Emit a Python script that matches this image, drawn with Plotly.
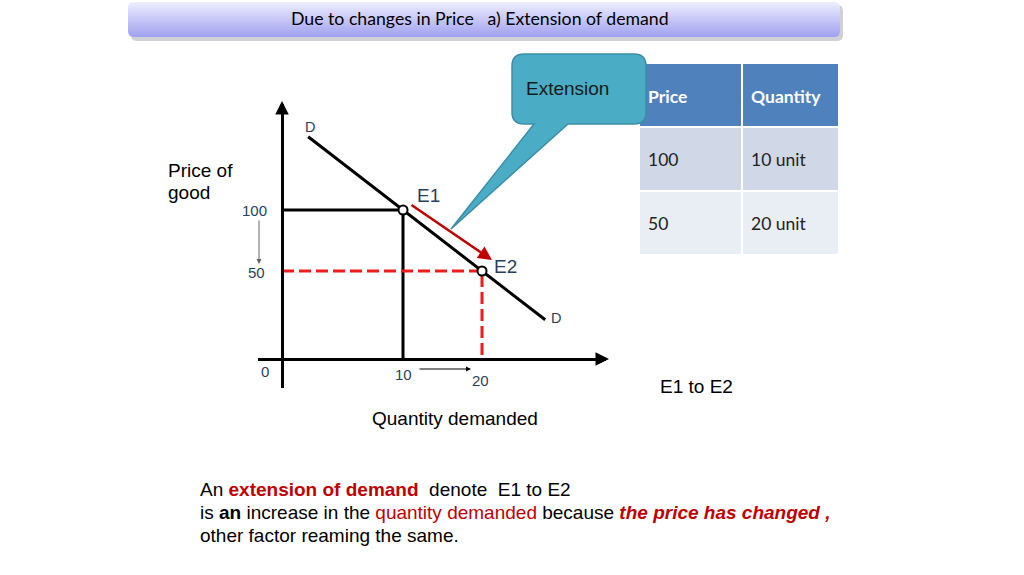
import numpy as np
import plotly.graph_objects as go

# ---------------- data ----------------
points_q = [10, 20]            # quantity at E1, E2
points_p = [100, 50]           # price at E1, E2
point_names = ["E1", "E2"]
demand_q = [-2, 28]            # demand curve D-D (schematic)
demand_p = [160, 10]
table_header = ["Price", "Quantity"]
table_price = ["100", "50"]
table_quantity = ["10 unit", "20 unit"]

W, H = 1024, 575
FONT = "Liberation Sans"
RED = "#c00000"

# pixel layout of the schematic diagram
Q0_PX, PX_PER_Q = 324.0, 7.9
P0_PX, PX_PER_P = 332.0, 1.22
def qx(px): return (px - Q0_PX) / PX_PER_Q
def pp(py): return (P0_PX - py) / PX_PER_P
XL, XR, YB, YT = 258, 606, 388, 104
AX_X_PX, AX_Y_PX = 282, 359
Q_AXIS, P_AXIS = qx(AX_X_PX), pp(AX_Y_PX)

fig = go.Figure()

# guide lines
fig.add_trace(go.Scatter(x=[Q_AXIS, points_q[0], points_q[0]], y=[points_p[0], points_p[0], P_AXIS],
                         mode="lines", line=dict(color="black", width=3), hoverinfo="skip"))
fig.add_trace(go.Scatter(x=[Q_AXIS, points_q[1], points_q[1]], y=[points_p[1], points_p[1], P_AXIS],
                         mode="lines", line=dict(color="#ee1c1c", width=3, dash="12px,5px"), hoverinfo="skip"))
# demand curve
fig.add_trace(go.Scatter(x=demand_q, y=demand_p, mode="lines",
                         line=dict(color="black", width=3), hoverinfo="skip"))
# equilibrium points
fig.add_trace(go.Scatter(x=points_q, y=points_p, mode="markers",
                         marker=dict(size=9, color="white", line=dict(color="black", width=2)),
                         hoverinfo="skip"))

# decoration layer traces (pixel space)
def rrect(x0, y0, x1, y1, r, n=8):
    xs, ys = [], []
    corners = [(x1 - r, y0 + r, -90, 0), (x1 - r, y1 - r, 0, 90),
               (x0 + r, y1 - r, 90, 180), (x0 + r, y0 + r, 180, 270)]
    for cx, cy, a0, a1 in corners:
        for a in np.linspace(np.radians(a0), np.radians(a1), n):
            xs.append(cx + r * np.cos(a)); ys.append(cy + r * np.sin(a))
    xs.append(xs[0]); ys.append(ys[0])
    return xs, ys

sx, sy = rrect(131, 5, 843, 41, 5)
fig.add_trace(go.Scatter(x=sx, y=sy, xaxis="x2", yaxis="y2", mode="lines", fill="toself",
                         line=dict(width=0), fillcolor="rgba(120,120,140,0.35)", hoverinfo="skip"))
tx, ty = rrect(128, 2, 840, 37, 5)
fig.add_trace(go.Scatter(x=tx, y=ty, xaxis="x2", yaxis="y2", mode="lines", fill="toself",
                         line=dict(width=0),
                         fillgradient=dict(type="vertical", start=2, stop=37,
                                           colorscale=[[0, "#eeeeff"], [1, "#a0a0f0"]]),
                         hoverinfo="skip"))

shapes = []
# table
col_x = [(640, 741), (743, 838)]
row_y = [(64, 126), (128, 190), (192, 254)]
row_fill = ["#4f81bd", "#d0d8e8", "#e9edf4"]
for (y0, y1), f in zip(row_y, row_fill):
    for (x0, x1) in col_x:
        shapes.append(dict(type="rect", xref="x2", yref="y2", x0=x0, x1=x1, y0=y0, y1=y1,
                           fillcolor=f, line=dict(width=0), layer="above"))
# callout
callout = ("M 524,54 L 634,54 Q 646,54 646,66 L 646,112 Q 646,124 634,124 "
           "L 568,124 L 451,229 L 534,124 L 524,124 Q 512,124 512,112 L 512,66 Q 512,54 524,54 Z")
shapes.append(dict(type="path", xref="x2", yref="y2", path=callout, fillcolor="#4bacc6",
                   line=dict(color="#3b8ea6", width=1.5), layer="above"))

ann = []
def A(**k):
    d = dict(showarrow=False, font=dict(family=FONT, size=19, color="black"))
    d.update(k); ann.append(d)

# title
A(text="Due to changes in Price&nbsp;&nbsp; a) Extension of demand", xref="x2", yref="y2",
  x=480, y=18, font=dict(family="Lato", size=17.7, color="black"))
# table text
for j, h in enumerate(table_header):
    A(text=f"<b>{h}</b>", xref="x2", yref="y2", x=col_x[j][0] + 6, y=96, xanchor="left",
      font=dict(family="Lato", size=17.5, color="white"))
for i in range(2):
    yc = (row_y[i + 1][0] + row_y[i + 1][1]) / 2
    A(text=table_price[i], xref="x2", yref="y2", x=col_x[0][0] + 6, y=yc, xanchor="left",
      font=dict(family="Lato", size=17.5, color="#222"))
    A(text=table_quantity[i], xref="x2", yref="y2", x=col_x[1][0] + 6, y=yc, xanchor="left",
      font=dict(family="Lato", size=17.5, color="#222"))
A(text="Extension", xref="x2", yref="y2", x=567, y=88, font=dict(family=FONT, size=19, color="#1a1a1a"))

# axis arrowheads
A(text="", xref="x2", yref="y2", x=609, y=AX_Y_PX, ax=-14, ay=0, showarrow=True,
  arrowhead=2, arrowsize=0.9, arrowwidth=3, arrowcolor="black")
A(text="", xref="x2", yref="y2", x=AX_X_PX, y=101, ax=0, ay=14, showarrow=True,
  arrowhead=2, arrowsize=0.9, arrowwidth=3, arrowcolor="black")
# small arrows
A(text="", xref="x2", yref="y2", x=259, y=264, ax=0, ay=-45, showarrow=True,
  arrowhead=2, arrowsize=1, arrowwidth=1, arrowcolor="#666")
A(text="", xref="x2", yref="y2", x=471, y=369, ax=-53, ay=0, showarrow=True,
  arrowhead=2, arrowsize=1, arrowwidth=1, arrowcolor="black")
# red movement arrow E1 -> E2
A(text="", xref="x", yref="y", x=points_q[1], y=points_p[1], xshift=10, yshift=11,
  ax=-82, ay=-56, showarrow=True, arrowhead=2, arrowsize=1.1, arrowwidth=2.5, arrowcolor=RED)

# tick labels (data positioned)
TK = dict(family=FONT, size=15)
A(text=str(points_p[0]), xref="x", yref="y", x=Q_AXIS, y=points_p[0], xshift=-28, font=TK)
A(text=str(points_p[1]), xref="x", yref="y", x=Q_AXIS, y=points_p[1], xshift=-26, yshift=-1, font=TK)
A(text="0", xref="x", yref="y", x=Q_AXIS, y=P_AXIS, xshift=-17, yshift=-12, font=TK)
A(text=str(points_q[0]), xref="x", yref="y", x=points_q[0], y=P_AXIS, yshift=-15, font=TK)
A(text=str(points_q[1]), xref="x", yref="y", x=points_q[1], y=P_AXIS, xshift=-2, yshift=-21, font=TK)
# point and curve labels
A(text=point_names[0], xref="x", yref="y", x=points_q[0], y=points_p[0], xshift=25, yshift=15, font=dict(family=FONT, size=19))
A(text=point_names[1], xref="x", yref="y", x=points_q[1], y=points_p[1], xshift=23, yshift=5, font=dict(family=FONT, size=19))
A(text="D", xref="x", yref="y", x=demand_q[0], y=demand_p[0], xshift=2, yshift=10, font=dict(family=FONT, size=14.5))
A(text="D", xref="x", yref="y", x=demand_q[1], y=demand_p[1], xshift=11, yshift=2, font=dict(family=FONT, size=14.5))

# axis titles etc.
A(text="Price of", xref="x2", yref="y2", x=166, y=170, xanchor="left")
A(text="good", xref="x2", yref="y2", x=166, y=192, xanchor="left")
A(text="Quantity demanded", xref="x2", yref="y2", x=455, y=418)
A(text="E1 to E2", xref="x2", yref="y2", x=658, y=386, xanchor="left")

# bottom text
lines = [
    f"An <span style='color:{RED}'><b>extension of demand</b></span>&nbsp; denote&nbsp; E1 to E2",
    f"is <b>an</b> increase in the <span style='color:{RED}'>quantity demanded</span> because "
    f"<span style='color:{RED}'><b><i>the price has changed ,</i></b></span>",
    "other factor reaming the same.",
]
for i, t in enumerate(lines):
    A(text=t, xref="x2", yref="y2", x=198, y=489 + 23 * i, xanchor="left")

fig.update_layout(
    width=W, height=H, margin=dict(l=0, r=0, t=0, b=0),
    paper_bgcolor="white", plot_bgcolor="rgba(0,0,0,0)", showlegend=False,
    xaxis=dict(domain=[XL / W, XR / W], range=[qx(XL), qx(XR)], anchor="free", position=1 - AX_Y_PX / H,
               showline=True, linecolor="black", linewidth=3, showgrid=False, zeroline=False,
               showticklabels=False, ticks=""),
    yaxis=dict(domain=[1 - YB / H, 1 - YT / H], range=[pp(YB), pp(YT)], anchor="free", position=AX_X_PX / W,
               showline=True, linecolor="black", linewidth=3, showgrid=False, zeroline=False,
               showticklabels=False, ticks=""),
    xaxis2=dict(domain=[0, 1], range=[0, W], anchor="y2", visible=False),
    yaxis2=dict(domain=[0, 1], range=[H, 0], anchor="x2", visible=False),
    shapes=shapes, annotations=ann,
)

fig.write_html("out.html", config={"displayModeBar": False},
               post_script="document.body.style.margin='0px';")
